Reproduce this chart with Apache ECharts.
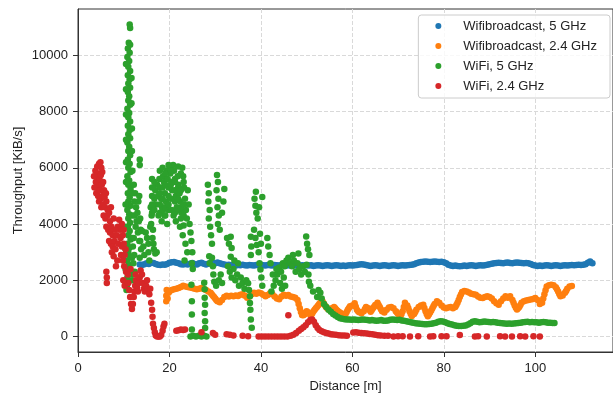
<!DOCTYPE html>
<html>
<head>
<meta charset="utf-8">
<script src="https://cdn.jsdelivr.net/npm/echarts@6/dist/echarts.min.js"></script>
<style>
  html, body { margin: 0; padding: 0; background: #fff; }
  #chart { width: 613px; height: 397px; }
</style>
</head>
<body>
<div id="chart"></div>
<script>
// series names and tab10 colours
const seriesNames = ['Wifibroadcast, 5 GHz', 'Wifibroadcast, 2.4 GHz', 'WiFi, 5 GHz', 'WiFi, 2.4 GHz'];
const seriesColors = ['#1f77b4', '#ff7f0e', '#2ca02c', '#d62728'];

// [distance m, throughput KiB/s]
const wbc5 = [
  [13.5,2560],[14,2540],[14.5,2570],[15,2600],[15.5,2580],[16,2620],[16.5,2610],[17,2580],[17.5,2550],[18,2540],
  [18.5,2560],[19,2550],[19.5,2580],[20,2620],[20.5,2640],[21,2650],[21.5,2620],[22,2600],[22.5,2570],[23,2560],
  [23.5,2580],[24,2560],[24.5,2590],[25,2610],[25.5,2580],[26,2560],[26.5,2600],[27,2620],[27.5,2590],[28,2560],
  [28.5,2590],[29,2610],[29.5,2620],[30,2600],[30.5,2630],[31,2600],[31.5,2580],[32,2560],[32.5,2540],[33,2550],
  [33.5,2530],[34,2540],[34.5,2520],[35,2540],[35.5,2530],[36,2550],[36.5,2530],[37,2520],[37.5,2540],[38,2530],
  [38.5,2520],[39,2540],[39.5,2530],[40,2550],[40.5,2530],[41,2520],[41.5,2540],[42,2530],[42.5,2520],[43,2540],
  [43.5,2530],[44,2520],[44.5,2540],[45,2530],[45.5,2520],[46,2530],[46.5,2520],[47,2540],[47.5,2520],[48,2530],
  [48.5,2520],[49,2530],[49.5,2520],[50,2530],[50.5,2520],[51,2530],[51.5,2510],[52,2520],[52.5,2530],[53,2520],
  [53.5,2510],[54,2520],[54.5,2530],[55,2520],[55.5,2510],[56,2520],[56.5,2530],[57,2520],[57.5,2510],[58,2520],
  [58.5,2510],[59,2520],[59.5,2530],[60,2520],[60.5,2530],[61,2540],[61.5,2560],[62,2570],[62.5,2560],[63,2540],
  [63.5,2520],[64,2510],[64.5,2520],[65,2530],[65.5,2520],[66,2510],[66.5,2520],[67,2530],[67.5,2520],[68,2510],
  [68.5,2520],[69,2530],[69.5,2520],[70,2510],[70.5,2520],[71,2530],[71.5,2520],[72,2530],[72.5,2540],[73,2550],
  [73.5,2570],[74,2600],[74.5,2630],[75,2650],[75.5,2660],[76,2670],[76.5,2660],[77,2650],[77.5,2660],[78,2670],
  [78.5,2660],[79,2650],[79.5,2660],[80,2640],[80.5,2600],[81,2550],[81.5,2520],[82,2510],[82.5,2520],[83,2510],
  [83.5,2500],[84,2510],[84.5,2520],[85,2510],[85.5,2520],[86,2530],[86.5,2520],[87,2510],[87.5,2520],[88,2530],
  [88.5,2520],[89,2530],[89.5,2550],[90,2570],[90.5,2590],[91,2600],[91.5,2610],[92,2620],[92.5,2610],[93,2600],
  [93.5,2620],[94,2630],[94.5,2610],[95,2600],[95.5,2620],[96,2630],[96.5,2620],[97,2610],[97.5,2600],[98,2610],
  [98.5,2600],[99,2580],[99.5,2540],[100,2520],[100.5,2510],[101,2520],[101.5,2510],[102,2520],[102.5,2530],[103,2520],
  [103.5,2510],[104,2520],[104.5,2530],[105,2520],[105.5,2510],[106,2520],[106.5,2530],[107,2520],[107.5,2530],[108,2540],
  [108.5,2530],[109,2540],[109.5,2550],[110,2540],[110.5,2550],[111,2570],[111.5,2620],[112,2670],[112.5,2600]
];

const wbc24 = [
  [19.3,1250],[19.3,1450],[19.4,1650],[19.6,1350],[19.8,1550],
  [20,1600],[20.5,1650],[21,1680],[21.5,1700],[22,1720],[22.5,1760],[23,1800],[23.5,1780],[24,1760],[24.5,1740],
  [25,1720],[25.5,1700],[26,1680],[26.5,1700],[27,1720],[27.5,1690],[28,1650],[28.5,1600],[29,1550],[29.25,1500],
  [29.5,1450],[29.75,1400],[30,1350],[30.25,1300],[30.5,1250],[31,1220],[31.5,1300],[32,1400],[32.5,1450],[33,1420],
  [33.5,1450],[34,1430],[34.5,1460],[35,1440],[35.5,1480],[36,1500],[36.5,1450],[37,1380],[37.5,1420],[38,1500],
  [38.5,1550],[39,1520],[39.5,1560],[40,1540],[40.5,1480],[41,1430],[41.5,1470],[42,1540],[42.5,1500],[43,1420],
  [43.5,1350],[44,1320],[44.5,1420],[45,1480],[45.5,1450],[46,1470],[46.5,1420],[47,1400],[47.5,1380],[48,1300],
  [48.25,1150],[48.5,1000],[48.75,870],[49,760],[49.25,750],[49.5,780],[49.75,840],[50,900],[50.25,860],[50.5,820],
  [50.75,780],[51,760],[51.25,820],[51.5,900],[51.75,950],[52,1000],[52.25,1050],[52.5,1100],[52.75,1150],[53,1200],
  [53.25,1230],[53.5,1240],[53.75,1170],[54,1100],[54.25,1050],[54.5,1000],[54.75,970],[55,950],[55.5,1000],[56,1050],
  [56.25,1000],[56.5,950],[56.75,910],[57,880],[57.25,850],[57.5,820],[58,780],[58.5,800],[58.75,870],[59,950],
  [59.25,1010],[59.5,1070],[60,1100],[60.5,1180],[60.75,1060],[61,950],[61.25,900],[61.5,860],[62,820],[62.5,900],
  [62.75,980],[63,1050],[63.5,1000],[63.75,940],[64,880],[64.25,940],[64.5,1000],[64.75,1060],[65,1120],[65.5,1200],
  [65.75,1120],[66,1050],[66.25,970],[66.5,900],[67,850],[67.5,950],[68,1030],[68.5,1050],[69,1000],[69.5,900],
  [69.75,850],[70,800],[70.5,720],[70.75,800],[71,900],[71.25,1050],[71.5,1200],[72,1100],[72.25,1000],[72.5,900],
  [72.75,810],[73,730],[73.5,800],[73.75,870],[74,950],[74.5,1050],[75,1100],[75.5,1130],[75.75,1010],[76,900],
  [76.25,800],[76.5,720],[76.75,780],[77,850],[77.25,920],[77.5,1000],[77.75,1080],[78,1150],[78.5,1250],[79,1200],
  [79.5,1100],[80,1030],[80.5,1000],[81,1030],[81.5,1050],[82,1000],[82.5,1050],[82.75,1120],[83,1200],[83.25,1300],
  [83.5,1400],[83.75,1490],[84,1580],[84.5,1620],[85,1600],[85.5,1560],[86,1520],[86.5,1500],[87,1480],[87.5,1420],
  [88,1380],[88.5,1370],[89,1400],[89.5,1430],[90,1400],[90.5,1350],[91,1250],[91.5,1180],[92,1130],[92.5,1250],
  [93,1350],[93.5,1430],[94,1380],[94.5,1430],[95,1300],[95.25,1200],[95.5,1100],[95.75,1020],[96,960],[96.25,1000],
  [96.5,1050],[96.75,1120],[97,1200],[97.5,1250],[98,1280],[98.5,1300],[99,1310],[99.5,1330],[100,1370],[100.5,1300],
  [101,1150],[101.5,1200],[101.75,1350],[102,1500],[102.25,1640],[102.5,1780],[103,1820],[103.5,1840],[104,1820],[104.5,1750],
  [104.75,1680],[105,1600],[105.25,1510],[105.5,1430],[106,1460],[106.5,1550],[106.75,1620],[107,1700],[107.5,1780],[108,1790]
];

const wifi5 = [
  // tall column near 11 m
  [11.3,11100],[11.4,10980],[11.1,10450],[11.4,10380],[10.9,10250],[11.3,10100],[10.8,9950],[11.2,9800],[11.0,9600],[11.4,9450],
  [10.9,9300],[11.3,9150],[11.0,9000],[11.4,8850],[10.9,8700],[11.2,8550],[11.0,8400],[11.4,8250],[10.8,8100],[11.2,7950],
  [11.0,7800],[11.4,7650],[10.9,7500],[11.3,7350],[11.0,7200],[11.4,7050],[10.8,6900],[11.2,6750],[11.0,6600],[11.4,6450],
  [10.9,6300],[11.3,6150],[11.0,6000],[11.5,5850],[10.8,5700],[11.2,5550],[11.0,5400],[11.5,5250],[10.9,5100],[11.3,4950],
  [11.0,4800],[11.5,4650],[10.8,4500],[11.2,4350],[11.0,4200],[11.4,4050],[10.9,3900],[11.3,3750],[11.0,3600],[11.5,3450],
  [10.8,3300],[11.2,3150],[11.0,3000],[11.4,2850],[10.8,2700],[11.1,2550],[10.9,2400],[11.2,2250],[10.8,2100],[11.0,1950],
  [10.7,1800],[10.6,1650],
  [10.5,9700],[11.7,9200],[10.5,8800],[11.7,8300],[10.5,7900],[11.8,7400],[10.5,7000],[11.8,6600],[10.5,6200],[11.9,5900],
  [10.5,5500],[11.9,5100],[10.4,4700],[11.9,4300],[10.4,3900],[11.8,3500],[10.4,3100],[11.8,2800],[10.4,2400],[11.7,2200],
  [12.2,5400],[12.5,5100],[12.3,4800],[12.7,4600],[12.4,4300],[12.8,4100],[13.0,4400],[13.2,4800],[13.4,5000],[12.6,3900],
  [13.1,3700],[13.6,4200],[13.5,6300],[13.5,6100],[12.2,3500],[12.0,3200],[12.3,2900],[12.1,2600],[12.4,2300],[11.9,2000],
  [13.3,4100],[13.7,3800],[13.4,3400],[13.8,3100],[13.5,2800],
  [14.0,3750],[14.3,3200],[14.5,2900],[15.4,3300],[15.4,3000],[15.6,2700],[16.3,3500],[16.6,3100],[16.9,2950],[13.6,3400],
  [14.8,3700],[15.1,3500],[15.8,3900],
  // cloud 16-25 m
  [15.9,4600],[16.1,4300],[16.0,4000],[16.4,3800],[16.7,4900],[16.9,5200],[17.1,4700],[17.3,5400],[17.5,5000],[17.8,5600],
  [18.0,5300],[18.2,4900],[18.4,4600],[18.6,5700],[18.8,5500],[19.0,5100],[19.2,4800],[19.4,5900],[19.6,5600],[19.8,5300],
  [20.0,6050],[20.2,5800],[20.4,5500],[20.6,5200],[20.8,6100],[21.0,5900],[21.2,5600],[21.4,5000],[21.6,4600],[21.8,5700],
  [22.0,5400],[22.2,5100],[22.4,4800],[22.6,4400],[22.8,6000],[23.0,5700],[23.2,5300],[23.4,4900],[23.6,4500],[23.8,4200],
  [24.0,5200],[24.2,4700],[24.4,4000],[24.6,3700],[24.8,3400],[25.0,3000],[24.9,2600],[25.1,2400],[20.5,4500],[20.9,4300],
  [19.7,4500],[18.9,4300],[22.3,3900],[22.9,3600],[23.5,3300],[23.9,3000],[23.3,2700],[17.6,4300],[18.3,4100],[19.5,4000],
  [21.4,4100],[16.5,3300],[17.2,3000],
  [16.2,5600],[16.2,5300],[16.2,5000],[16.2,4700],[16.2,4400],[16.7,5500],[16.7,4500],
  [17.9,5900],[17.9,5100],[17.9,4700],[17.9,4400],[18.5,6000],[18.5,5300],[18.5,4900],[18.5,4500],
  [19.1,5800],[19.1,5400],[19.1,4600],[19.1,4300],[19.8,6100],[19.8,5000],[19.8,4700],
  [20.3,5900],[20.3,5400],[20.3,4900],[21.2,5500],[21.2,5200],[21.2,4800],[21.2,4400],
  [21.9,6050],[21.9,5300],[21.9,4900],[21.9,4500],[22.5,5800],[22.5,5200],[22.5,4600],[22.5,4200],
  [23.1,5500],[23.1,4700],[23.1,4300],[23.1,3950],
  // trails to zero near 25-28 m
  [24.8,1840],[24.9,1250],[24.9,780],[24.9,250],
  [24.6,0],[25.2,20],[25.8,0],[26.4,20],[27.0,0],[27.6,20],[28.1,0],
  [27.6,1910],[27.7,1680],[27.7,1380],[27.8,1130],[27.7,830],[27.8,540],[27.8,300],
  // 28-37 m
  [28.4,5400],[28.6,5100],[28.5,4800],[28.8,4500],[28.6,4200],[28.9,3900],[29.1,3600],[29.3,3300],[28.7,2850],[28.8,2600],
  [30.4,5750],[30.6,5500],[30.3,5200],[30.7,4900],[30.5,4600],[30.8,4300],[30.6,4000],[31.0,3800],[32.0,5250],[31.8,4800],
  [31.5,4400],[29.3,2800],[29.5,2500],[29.6,2200],[29.8,1950],[30.2,1800],[30.8,2000],[31.2,2200],[31.5,1900],
  [32.6,3500],[33.0,3300],[33.4,3550],[33.6,3150],[33.4,2840],[32.8,2500],[33.2,2300],[33.6,2100],[34.0,2400],[34.4,2000],
  [34.8,2200],[35.2,1800],[35.6,2100],[36.0,1900],[36.4,1700],[36.8,2000],[34.2,2700],[35.0,2600],[37.8,3550],[37.9,3200],
  [37.8,2900],
  [37.2,1890],[37.4,1650],[37.6,1430],[37.6,1190],[37.7,950],[37.8,600],[38.0,310],
  // 38-46 m
  [38.9,5150],[40.3,4960],[38.6,4900],[38.8,4650],[39.0,4400],[39.3,4200],[39.6,4600],[38.5,3800],[38.8,3500],[39.1,3250],
  [39.5,3000],[39.8,3650],[40.0,3300],[39.9,2380],[40.1,2100],[40.3,1800],[39.7,2600],
  [41.4,3500],[41.6,3200],[41.9,2900],[42.1,2600],
  [42.3,1600],[42.8,1800],[43.2,2000],[43.6,2200],[44.0,2450],[44.4,2300],[44.8,2600],[45.2,2500],[45.6,2700],[46.0,2800],
  [46.4,2600],[42.6,2200],[43.4,2400],[44.2,1900],[44.6,1700],
  [46.8,2500],[47.2,2700],[47.6,2300],[48.0,2600],[48.4,2400],[48.8,2200],[49.2,2500],[49.6,2300],[50.0,2550],[50.4,2200],
  [47.0,2900],[48.2,2950],[45.0,2100],[45.3,1800],[49.9,3560],[50.1,3300],[50.3,3100],[50.6,2900],
  [50.5,1950],[50.8,1800],[51.4,1600],[52.3,1400],[52.6,1650],[53.0,1550],[53.3,1350],[53.8,1150],[54.3,1050],[54.8,950],
  [55.3,880],
  // low band
  [55.8,800],[56.3,740],[56.8,690],[57.3,650],[57.8,630],[58.3,610],[58.8,600],[59.3,600],[59.8,590],[60.3,600],
  [60.8,590],[61.3,580],[61.8,590],[62.3,600],[62.8,590],[63.3,580],[63.8,570],[64.3,580],[64.8,570],[65.3,560],
  [65.8,570],[66.3,580],[66.8,560],[67.3,560],[67.8,570],[68.3,590],[68.8,600],[69.3,590],[69.8,580],[70.3,590],
  [70.8,570],[71.3,560],[71.8,540],[72.3,520],[72.8,500],[73.3,490],[73.8,470],[74.3,460],[74.8,450],[75.3,440],
  [75.8,430],[76.3,430],[76.8,440],[77.3,450],[77.8,470],[78.3,490],[78.8,520],[79.3,540],[79.8,530],[80.3,500],
  [80.8,470],[81.3,440],[81.8,420],[82.3,400],[82.8,380],[83.3,370],[83.8,370],[84.3,380],[84.8,390],[85.3,420],
  [85.8,470],[86.3,520],[86.8,540],[87.3,520],[87.8,500],[88.3,510],[88.8,530],[89.3,520],[89.8,510],[90.3,500],
  [90.8,510],[91.3,500],[91.8,490],[92.3,480],[92.8,470],[93.3,460],[93.8,450],[94.3,460],[94.8,450],[95.3,460],
  [95.8,470],[96.3,480],[96.8,490],[97.3,500],[97.8,510],[98.3,520],[98.8,500],[99.3,510],[99.8,500],[100.3,500],
  [100.8,490],[101.3,500],[101.8,510],[102.3,500],[102.8,490],[103.3,490],[103.8,480],[104.2,480]
];

const wifi24 = [
  // cloud 3-11 m
  [3.8,5900],[4.0,5700],[4.2,6050],[4.4,5800],[4.6,6150],[4.9,6200],[5.1,6000],[3.9,5500],[4.1,5300],[4.3,5500],
  [4.5,5300],[4.7,5600],[5.0,5750],[5.3,5850],[4.0,5100],[4.4,5000],[4.8,5200],[5.2,5400],[5.5,5500],[5.7,5200],
  [4.6,4800],[5.0,4900],[5.4,5000],[5.8,4950],[6.1,5100],[5.1,4600],[5.5,4700],[5.9,4600],[6.2,4800],[6.5,4500],
  [5.6,4300],[6.0,4200],[6.4,4300],[6.8,4400],[7.0,4100],[6.2,3900],[6.6,3800],[7.0,3700],[7.3,3900],[7.6,3600],
  [6.8,3400],[7.2,3300],[7.6,3200],[8.0,3400],[7.4,3000],[7.8,2850],[8.2,3100],[8.5,3600],[8.7,3900],[9.0,4150],
  [9.2,3800],[8.8,3300],[9.3,3500],[9.6,3200],[9.8,3600],[10.0,3300],[9.4,2900],[9.8,2700],[10.2,2900],[10.4,3100],
  [10.1,2500],[10.5,2300],[6.2,2300],[6.3,2100],[6.3,1900],[8.3,2500],[8.6,2700],[3.5,5700],[3.6,5300],
  [7.2,4600],[7.8,4200],[8.1,3800],[9.6,4000],[10.0,3800],[9.9,2000],[10.2,1800],
  // 11-16 m
  [10.9,2200],[11.0,1900],[11.2,1650],[11.4,1400],[11.6,1150],[11.8,980],[12.0,1150],[12.2,1400],[12.3,1600],[12.5,1800],
  [12.7,2000],[12.9,1750],[13.1,1600],[13.3,1900],[13.5,2100],[13.7,2350],[14.0,2200],[14.2,1900],[14.4,1700],[14.6,1600],
  [14.9,1800],[15.1,2000],[15.3,1700],[15.6,1500],[15.8,1700],[11.5,2400],[12.6,2200],
  // drop to zero
  [16.0,1200],[16.2,950],[16.3,700],[16.4,450],[16.6,300],[16.8,150],[17.0,30],[17.3,0],[17.6,0],[17.9,0],
  [18.2,50],[18.5,200],[18.7,350],[18.9,450],
  [21.5,200],[22.0,220],[22.5,250],[23.0,230],[23.4,250],[27.0,150],[29.5,120],[30.0,60],[32.5,80],[33.2,60],
  [34.0,30],[36.0,20],[37.2,10],
  [39.5,0],[40.2,0],[40.9,0],[41.6,0],[42.3,0],[43.0,0],[43.7,0],[44.4,0],[45.1,0],[45.8,0],[46.0,750],
  [46.5,20],[47.1,60],[47.7,120],[48.3,200],[48.8,260],[49.3,330],[49.8,400],[50.3,500],[50.8,580],[51.2,600],
  [51.6,520],[52.0,400],[52.4,300],[52.8,230],[53.3,180],[53.8,150],[54.3,120],[54.8,100],[55.3,80],[55.8,70],
  [56.4,60],[57.0,40],[57.6,30],[58.2,30],[58.8,20],[60.2,140],[60.8,150],[61.4,130],[62.0,120],[62.6,110],
  [63.2,100],[63.8,90],[64.4,80],[65.0,60],[65.6,40],[66.2,30],[67.0,20],[67.8,20],
  [69.0,0],[70.0,10],[71.0,10],[72.6,0],[74.4,10],[77.0,0],[77.7,10],[79.5,10],[80.6,10],[83.5,50],
  [86.8,0],[87.5,10],[89.4,0],[92.3,10],[93.4,0],[94.9,0],[96.7,10],[97.8,0],[99.6,10],[101.0,0]
];

const fontFamily = '"Liberation Sans", Arial, sans-serif';
const textColor = '#222';
const spineColor = '#333';
const gridColor = '#d9d9d9';

const chart = echarts.init(document.getElementById('chart'), null, { renderer: 'canvas' });

const dataSets = [wbc5, wbc24, wifi5, wifi24];

chart.setOption({
  animation: false,
  backgroundColor: '#fff',
  textStyle: { fontFamily: fontFamily },
  grid: {
    left: 78, right: 0, top: 9, bottom: 45,
    outerBoundsMode: 'none',
    show: true, borderColor: spineColor, borderWidth: 1
  },
  legend: {
    orient: 'vertical',
    right: 3,
    top: 15,
    icon: 'circle',
    itemWidth: 6,
    itemHeight: 6,
    itemGap: 6,
    padding: [4, 13, 5, 17],
    backgroundColor: 'rgba(255,255,255,0.8)',
    borderColor: '#ccc',
    borderWidth: 1,
    borderRadius: 3,
    textStyle: { fontSize: 13, color: textColor, fontFamily: fontFamily, lineHeight: 14, padding: [0, 0, 0, 17] },
    data: seriesNames
  },
  xAxis: {
    type: 'value',
    min: 0,
    max: 117,
    interval: 20,
    name: 'Distance [m]',
    nameLocation: 'middle',
    nameGap: 28,
    nameMoveOverlap: false,
    nameTextStyle: { fontSize: 13, color: textColor, fontFamily: fontFamily },
    axisLine: { show: true, onZero: false, lineStyle: { color: spineColor, width: 1 } },
    axisTick: { show: true, length: 5, lineStyle: { color: spineColor } },
    axisLabel: { showMaxLabel: false, margin: 10, fontSize: 13, color: textColor, fontFamily: fontFamily },
    splitLine: { show: true, showMinLine: false, showMaxLine: false, lineStyle: { color: gridColor, width: 1, type: [4, 2] } }
  },
  yAxis: {
    type: 'value',
    min: -555,
    max: 11655,
    name: 'Throughput [KiB/s]',
    nameLocation: 'middle',
    nameRotate: 90,
    nameGap: 53,
    nameMoveOverlap: false,
    nameTextStyle: { fontSize: 13, color: textColor, fontFamily: fontFamily },
    axisLine: { show: true, onZero: false, lineStyle: { color: spineColor, width: 1 } },
    axisTick: { show: true, length: 5, lineStyle: { color: spineColor } },
    axisLabel: {
      showMinLabel: false, showMaxLabel: false, margin: 10, fontSize: 13, color: textColor, fontFamily: fontFamily,
      formatter: (v) => String(v)
    },
    splitLine: { show: true, showMinLine: false, showMaxLine: false, lineStyle: { color: gridColor, width: 1, type: [4, 2] } }
  },
  series: seriesNames.map((name, i) => ({
    name: name,
    type: 'scatter',
    data: dataSets[i],
    symbol: 'circle',
    symbolSize: 6.5,
    itemStyle: { color: seriesColors[i], opacity: 1 },
    emphasis: { disabled: true }
  }))
});
</script>
</body>
</html>
